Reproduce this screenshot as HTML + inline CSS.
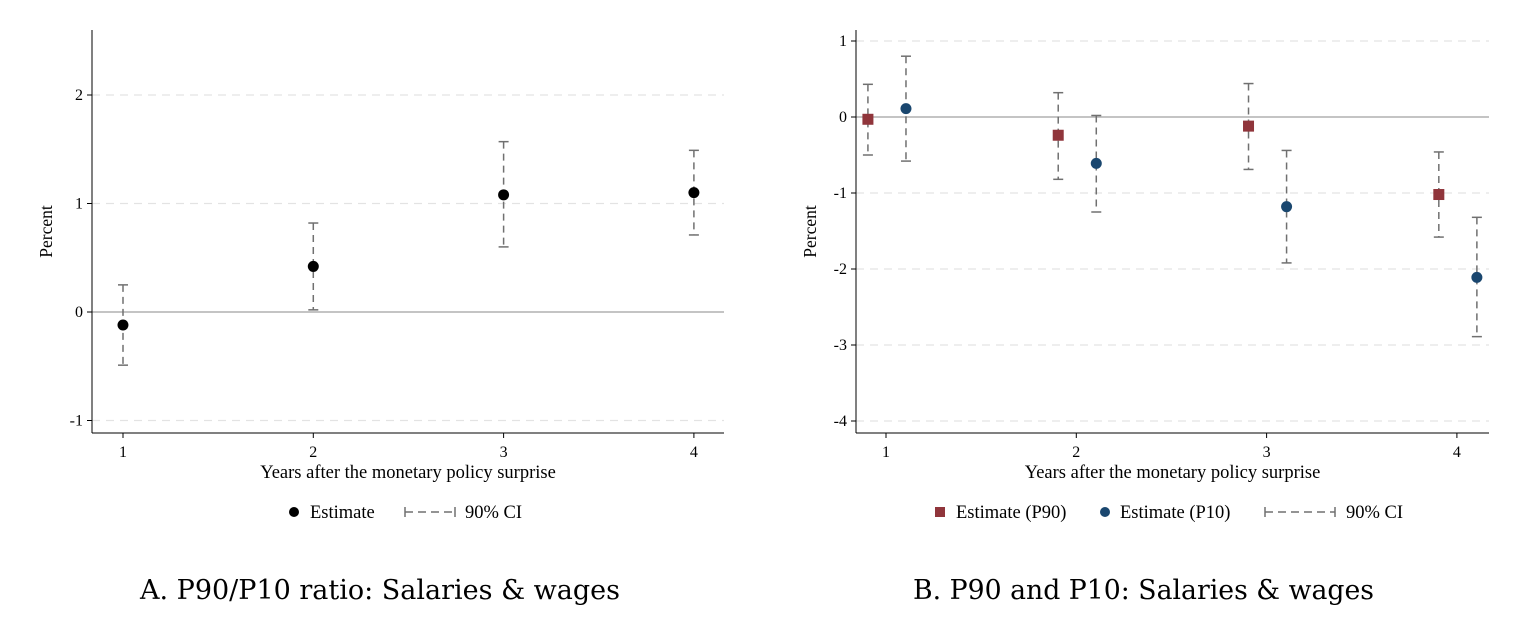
<!DOCTYPE html>
<html><head><meta charset="utf-8"><style>
body{margin:0;background:#fff;width:1515px;height:630px;overflow:hidden}
svg text{font-family:"Liberation Serif",serif;fill:#000}
</style></head><body>
<svg id="s" width="1515" height="630">
<text x="140" y="599" font-size="27" textLength="480" lengthAdjust="spacingAndGlyphs" style="font-family:'DejaVu Serif',serif">A. P90/P10 ratio: Salaries &amp; wages</text>
<text x="913" y="599" font-size="27" textLength="461" lengthAdjust="spacingAndGlyphs" style="font-family:'DejaVu Serif',serif">B. P90 and P10: Salaries &amp; wages</text>
</svg>
<script>
const years=[1,2,3,4];
const aEst=[-0.12,0.42,1.08,1.10];
const aLo=[-0.49,0.02,0.60,0.71];
const aHi=[0.25,0.82,1.57,1.49];
const aTicks=[-1,0,1,2];
const p90Est=[-0.03,-0.24,-0.12,-1.02];
const p90Lo=[-0.50,-0.82,-0.69,-1.58];
const p90Hi=[0.43,0.32,0.44,-0.46];
const p10Est=[0.11,-0.61,-1.18,-2.11];
const p10Lo=[-0.58,-1.25,-1.92,-2.89];
const p10Hi=[0.80,0.02,-0.44,-1.32];
const bTicks=[-4,-3,-2,-1,0,1];
const xTicks=[1,2,3,4];
const S=document.getElementById('s');const NS='http://www.w3.org/2000/svg';
function el(t,a,p){const e=document.createElementNS(NS,t);for(const k in a)e.setAttribute(k,a[k]);(p||S).appendChild(e);return e;}
function panel(name,x0,x1,yTop,yBot,xf,yf,ticks){
 const g=el('g',{});
 
 
 ticks.forEach(t=>{const y=yf(t);
  if(t!==0){const l=el('line',{x1:x0,x2:x1,y1:y,y2:y,stroke:'#e3e3e3','stroke-width':1.3,'stroke-dasharray':'8,6'},g);}
  el('line',{x1:x0-5,x2:x0,y1:y,y2:y,stroke:'#000'},g);
  const tx=el('text',{x:x0-9,y:y+5,'font-size':16,'text-anchor':'end'},g);tx.textContent=t;
  });
 const z=el('line',{x1:x0,x2:x1,y1:yf(0),y2:yf(0),stroke:'#a0a0a0','stroke-width':1.2},g);
 
 el('line',{x1:x0,x2:x0,y1:yTop,y2:yBot,stroke:'#000'},g);
 el('line',{x1:x0,x2:x1,y1:yBot,y2:yBot,stroke:'#000'},g);
 xTicks.forEach(t=>{const x=xf(t);el('line',{x1:x,x2:x,y1:yBot,y2:yBot+5,stroke:'#000'},g);
  const tx=el('text',{x:x,y:yBot+24,'font-size':16,'text-anchor':'middle'},g);tx.textContent=t;
  });
 const xt=el('text',{x:(x0+x1)/2,y:yBot+45,'font-size':18.5,'text-anchor':'middle'},g);xt.textContent='Years after the monetary policy surprise';
 
 const yt=el('text',{x:0,y:0,'font-size':17.5,'text-anchor':'middle',transform:`translate(${x0-40},${(yTop+yBot)/2}) rotate(-90)`},g);yt.textContent='Percent';
 
 return g;}
function ci(g,x,lo,hi,yf){
 const l=el('line',{x1:x,x2:x,y1:yf(hi),y2:yf(lo),stroke:'#707070','stroke-width':1.5,'stroke-dasharray':'7,5'},g);
 
 [lo,hi].forEach(v=>el('line',{x1:x-5,x2:x+5,y1:yf(v),y2:yf(v),stroke:'#707070','stroke-width':1.5},g));}
const axf=v=>123+(v-1)*190.3, ayf=v=>312-v*108.5;
const gA=panel('panel-a-chart',92,724,30,433,axf,ayf,aTicks);
years.forEach((yr,i)=>{ci(gA,axf(yr),aLo[i],aHi[i],ayf);
 const c=el('circle',{cx:axf(yr),cy:ayf(aEst[i]),r:5.5,fill:'#000'},gA);
 });
const bxf=v=>886+(v-1)*190.3, byf=v=>117-v*76;
const gB=panel('panel-b-chart',856,1489,30,433,bxf,byf,bTicks);
years.forEach((yr,i)=>{
 ci(gB,bxf(yr-0.095),p90Lo[i],p90Hi[i],byf);ci(gB,bxf(yr+0.105),p10Lo[i],p10Hi[i],byf);
 const r=el('rect',{x:bxf(yr-0.095)-5.5,y:byf(p90Est[i])-5.5,width:11,height:11,fill:'#90353b'},gB);
 
 const c=el('circle',{cx:bxf(yr+0.105),cy:byf(p10Est[i]),r:5.5,fill:'#1a476f'},gB);
 });
function ciKey(g,x,y,w){el('line',{x1:x,x2:x+w,y1:y,y2:y,stroke:'#707070','stroke-width':1.5,'stroke-dasharray':'8,5'},g);
 el('line',{x1:x,x2:x,y1:y-5,y2:y+5,stroke:'#707070','stroke-width':1.5},g);el('line',{x1:x+w,x2:x+w,y1:y-5,y2:y+5,stroke:'#707070','stroke-width':1.5},g);}
function txt(g,x,y,s){const t=el('text',{x:x,y:y,'font-size':18.5},g);t.textContent=s;return t;}
const lA=el('g',{});
el('circle',{cx:294,cy:512,r:5,fill:'#000'},lA);txt(lA,310,518,'Estimate');ciKey(lA,405,512,50);txt(lA,465,518,'90% CI');
const lB=el('g',{});
el('rect',{x:935,y:507,width:10,height:10,fill:'#90353b'},lB);txt(lB,956,518,'Estimate (P90)');
el('circle',{cx:1105,cy:512,r:5,fill:'#1a476f'},lB);txt(lB,1120,518,'Estimate (P10)');
ciKey(lB,1265,512,70);txt(lB,1346,518,'90% CI');
</script>
</body></html>
